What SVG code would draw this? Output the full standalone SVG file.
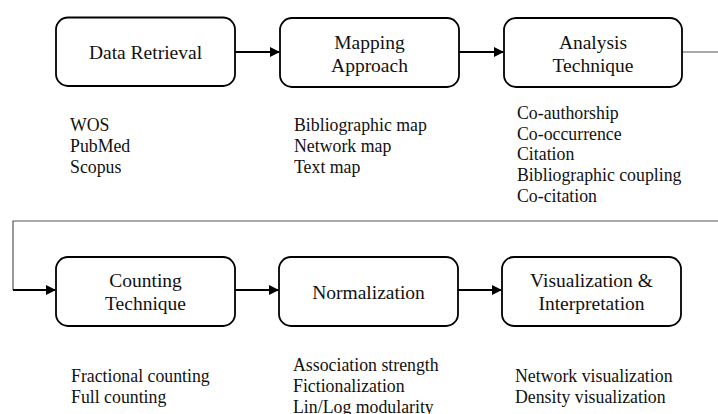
<svg xmlns="http://www.w3.org/2000/svg" width="718" height="414" viewBox="0 0 718 414">
<style>
.box{fill:#fff;stroke:#000;stroke-width:1.8}
.t{font-family:"Liberation Serif","Times New Roman",serif;font-size:19.5px;fill:#111;text-anchor:middle}
.l{font-family:"Liberation Serif","Times New Roman",serif;font-size:17.8px;fill:#111}
.a{stroke:#000;stroke-width:2;fill:none}
.g{stroke:#555;stroke-width:1.2;fill:none}
</style>
<defs>
<marker id="ah" markerWidth="10" markerHeight="10" refX="9" refY="5" orient="auto" markerUnits="userSpaceOnUse">
<path d="M0,0 L10,5 L0,10 Z" fill="#000"/>
</marker>
</defs>
<rect width="718" height="414" fill="#fff"/>
<g id="connectors">
<line class="a" x1="235" y1="52" x2="279" y2="52" marker-end="url(#ah)"/>
<line class="a" x1="459" y1="52" x2="503" y2="52" marker-end="url(#ah)"/>
<line class="g" x1="682" y1="52" x2="718" y2="52"/>
<polyline class="g" points="718,221 13,221 13,290"/>
<line class="a" x1="13" y1="290" x2="55" y2="290" marker-end="url(#ah)"/>
<line class="a" x1="235" y1="290" x2="278" y2="290" marker-end="url(#ah)"/>
<line class="a" x1="458" y1="290" x2="501" y2="290" marker-end="url(#ah)"/>
</g>
<g id="data-retrieval">
<rect class="box" x="56" y="17.5" width="179" height="68.5" rx="12"/>
<text class="t" x="145.5" y="59">Data Retrieval</text>
<text class="l" x="70" y="131">WOS</text>
<text class="l" x="70" y="152">PubMed</text>
<text class="l" x="70" y="173">Scopus</text>
</g>
<g id="mapping-approach">
<rect class="box" x="280" y="18" width="179" height="69" rx="12"/>
<text class="t" x="369.5" y="49">Mapping</text>
<text class="t" x="369.5" y="72">Approach</text>
<text class="l" x="294" y="131">Bibliographic map</text>
<text class="l" x="294" y="152">Network map</text>
<text class="l" x="294" y="173">Text map</text>
</g>
<g id="analysis-technique">
<rect class="box" x="504" y="18" width="178" height="69" rx="12"/>
<text class="t" x="593" y="49">Analysis</text>
<text class="t" x="593" y="72">Technique</text>
<text class="l" x="517" y="119">Co-authorship</text>
<text class="l" x="517" y="140">Co-occurrence</text>
<text class="l" x="517" y="160">Citation</text>
<text class="l" x="517" y="181">Bibliographic coupling</text>
<text class="l" x="517" y="202">Co-citation</text>
</g>
<g id="counting-technique">
<rect class="box" x="56" y="257" width="179" height="69" rx="12"/>
<text class="t" x="145.5" y="287">Counting</text>
<text class="t" x="145.5" y="310">Technique</text>
<text class="l" x="71" y="382">Fractional counting</text>
<text class="l" x="71" y="403">Full counting</text>
</g>
<g id="normalization">
<rect class="box" x="279" y="257" width="179" height="69" rx="12"/>
<text class="t" x="368.5" y="299">Normalization</text>
<text class="l" x="293" y="371">Association strength</text>
<text class="l" x="293" y="392">Fictionalization</text>
<text class="l" x="293" y="413">Lin/Log modularity</text>
</g>
<g id="visualization">
<rect class="box" x="502" y="257" width="179" height="69" rx="12"/>
<text class="t" x="591.5" y="287">Visualization &amp;</text>
<text class="t" x="591.5" y="310">Interpretation</text>
<text class="l" x="515" y="382">Network visualization</text>
<text class="l" x="515" y="403">Density visualization</text>
</g>
</svg>
